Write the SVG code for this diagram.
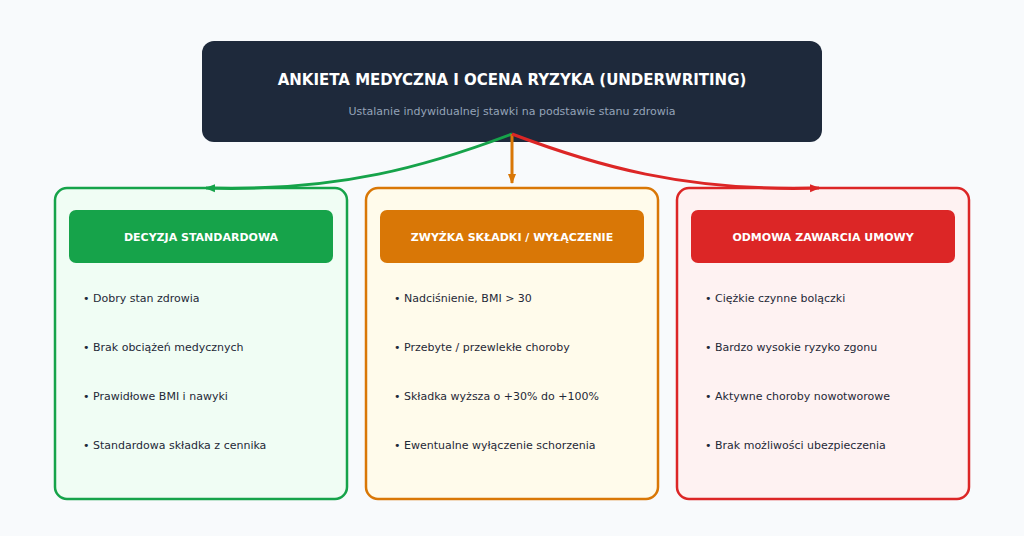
<svg xmlns="http://www.w3.org/2000/svg" width="1024" height="536" viewBox="0 0 1024 536">
<defs>
<marker id="ag" markerWidth="10" markerHeight="10" refX="9" refY="5" orient="auto" markerUnits="userSpaceOnUse"><path d="M0,1 L10,5 L0,9 Z" fill="#16a34a"/></marker>
<marker id="ao" markerWidth="10" markerHeight="10" refX="9" refY="5" orient="auto" markerUnits="userSpaceOnUse"><path d="M0,1 L10,5 L0,9 Z" fill="#d97706"/></marker>
<marker id="ar" markerWidth="10" markerHeight="10" refX="9" refY="5" orient="auto" markerUnits="userSpaceOnUse"><path d="M0,1 L10,5 L0,9 Z" fill="#dc2626"/></marker>
</defs>
<style>
text{font-family:"DejaVu Sans","Liberation Sans",sans-serif}
.t{font-size:15px;font-weight:bold;fill:#ffffff;text-anchor:middle}
.s{font-size:11px;fill:#94a3b8;text-anchor:middle}
.h{font-size:11px;font-weight:bold;fill:#ffffff;text-anchor:middle}
.b{font-size:11px;fill:#1f2937}
.card{stroke-width:2.5}
.c{fill:none;stroke-width:3}
</style>
<rect width="1024" height="536" fill="#f8fafc"/>
<g id="header">
<rect x="202" y="41" width="620" height="101" rx="12" fill="#1e293b"/>
<text class="t" x="512" y="85">ANKIETA MEDYCZNA I OCENA RYZYKA (UNDERWRITING)</text>
<text class="s" x="512" y="115">Ustalanie indywidualnej stawki na podstawie stanu zdrowia</text>
</g>
<g id="standard">
<rect class="card" x="55" y="188" width="292" height="311" rx="12" fill="#f0fdf4" stroke="#16a34a"/>
<rect x="69" y="210" width="264" height="53" rx="7" fill="#16a34a"/>
<text class="h" x="201" y="241">DECYZJA STANDARDOWA</text>
<text class="b" x="83" y="302">• Dobry stan zdrowia</text>
<text class="b" x="83" y="351">• Brak obciążeń medycznych</text>
<text class="b" x="83" y="400">• Prawidłowe BMI i nawyki</text>
<text class="b" x="83" y="449">• Standardowa składka z cennika</text>
</g>
<g id="surcharge">
<rect class="card" x="366" y="188" width="292" height="311" rx="12" fill="#fffbeb" stroke="#d97706"/>
<rect x="380" y="210" width="264" height="53" rx="7" fill="#d97706"/>
<text class="h" x="512" y="241">ZWYŻKA SKŁADKI / WYŁĄCZENIE</text>
<text class="b" x="394" y="302">• Nadciśnienie, BMI &gt; 30</text>
<text class="b" x="394" y="351">• Przebyte / przewlekłe choroby</text>
<text class="b" x="394" y="400">• Składka wyższa o +30% do +100%</text>
<text class="b" x="394" y="449">• Ewentualne wyłączenie schorzenia</text>
</g>
<g id="refusal">
<rect class="card" x="677" y="188" width="292" height="311" rx="12" fill="#fef2f2" stroke="#dc2626"/>
<rect x="691" y="210" width="264" height="53" rx="7" fill="#dc2626"/>
<text class="h" x="823" y="241">ODMOWA ZAWARCIA UMOWY</text>
<text class="b" x="705" y="302">• Ciężkie czynne bolączki</text>
<text class="b" x="705" y="351">• Bardzo wysokie ryzyko zgonu</text>
<text class="b" x="705" y="400">• Aktywne choroby nowotworowe</text>
<text class="b" x="705" y="449">• Brak możliwości ubezpieczenia</text>
</g>
<g id="connectors">
<path class="c" d="M512,134 C430,165 340,192 206,188" stroke="#16a34a" marker-end="url(#ag)"/>
<path class="c" d="M512,134 L512,183" stroke="#d97706" marker-end="url(#ao)"/>
<path class="c" d="M512,134 C594,165 684,192 819,188" stroke="#dc2626" marker-end="url(#ar)"/>
</g>
</svg>
